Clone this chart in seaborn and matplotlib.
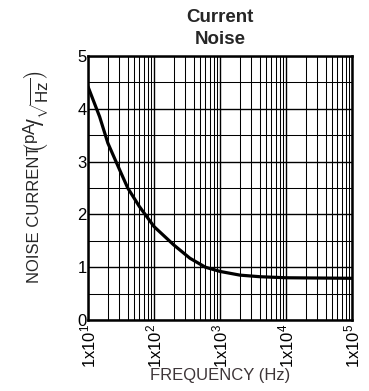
import matplotlib
matplotlib.use("Agg")
import matplotlib.pyplot as plt
import matplotlib.ticker as mticker
import numpy as np
import pandas as pd
import seaborn as sns

# Current noise density vs frequency
freq_hz = [10, 15, 20, 30, 40, 60, 100, 200, 350, 600, 1000, 2000, 4000, 10000, 100000]
noise_pa = [4.42, 3.85, 3.35, 2.85, 2.50, 2.15, 1.77, 1.42, 1.17, 1.00, 0.92, 0.85, 0.82, 0.80, 0.79]
x_ticks = [10, 100, 1000, 10000, 100000]
x_tick_labels = [r"1x10$^{1}$", r"1x10$^{2}$", r"1x10$^{3}$", r"1x10$^{4}$", r"1x10$^{5}$"]
y_ticks = [0, 1, 2, 3, 4, 5]

sns.set_theme(style="white")
plt.rcParams["font.family"] = ["Liberation Sans", "DejaVu Sans"]
plt.rcParams["mathtext.fontset"] = "custom"
plt.rcParams["mathtext.rm"] = "Liberation Sans"
plt.rcParams["mathtext.it"] = "Liberation Sans"
plt.rcParams["mathtext.bf"] = "Liberation Sans:bold"

df = pd.DataFrame({"freq": freq_hz, "noise": noise_pa})

W, H = 369, 391
fig = plt.figure(figsize=(W / 100, H / 100), dpi=100)
ax = fig.add_axes([88 / W, 1 - 320 / H, 264 / W, 264 / H])

ax.set_xscale("log")
sns.lineplot(data=df, x="freq", y="noise", ax=ax, color="black", linewidth=2.3, zorder=5)

ax.set_xlim(10, 100000)
ax.set_ylim(0, 5)

ax.set_xticks(x_ticks)
ax.set_xticklabels(x_tick_labels, rotation=90, fontsize=12, color="black")
ax.xaxis.set_minor_locator(mticker.LogLocator(base=10, subs=np.arange(2, 10)))
ax.xaxis.set_minor_formatter(mticker.NullFormatter())
ax.set_yticks(y_ticks)
ax.set_yticklabels([str(v) for v in y_ticks], fontsize=12, color="black")
ax.yaxis.set_minor_locator(mticker.MultipleLocator(0.5))

ax.grid(True, which="major", color="black", linewidth=1.0)
ax.grid(True, which="minor", color="black", linewidth=0.75)
ax.tick_params(axis="both", which="both", length=0)
ax.tick_params(axis="x", pad=3)
ax.tick_params(axis="y", pad=1)

for s in ax.spines.values():
    s.set_color("black")
    s.set_linewidth(1.8)
    s.set_visible(True)

ax.set_xlabel("FREQUENCY (Hz)", fontsize=12, color="#3d3538", labelpad=0)
ax.set_ylabel("")
ax.set_title("Current\nNoise", fontsize=13.5, fontweight="bold", pad=8.5, linespacing=1.42)

# y-axis label: text plus the bracketed unit pA / sqrt(Hz)
fig.text(35 / W, 1 - 214 / H, "NOISE CURRENT", rotation=90, ha="center", va="center",
         fontsize=12, family=["Liberation Sans Narrow", "Liberation Sans", "DejaVu Sans"])
fig.text(36 / W, 1 - 112 / H,
         r"$\left(^{\mathregular{pA}}\!/_{\sqrt{\mathregular{Hz}}}\right)$",
         rotation=90, ha="center", va="center", fontsize=17.5)

fig.savefig("out.png", dpi=100)
